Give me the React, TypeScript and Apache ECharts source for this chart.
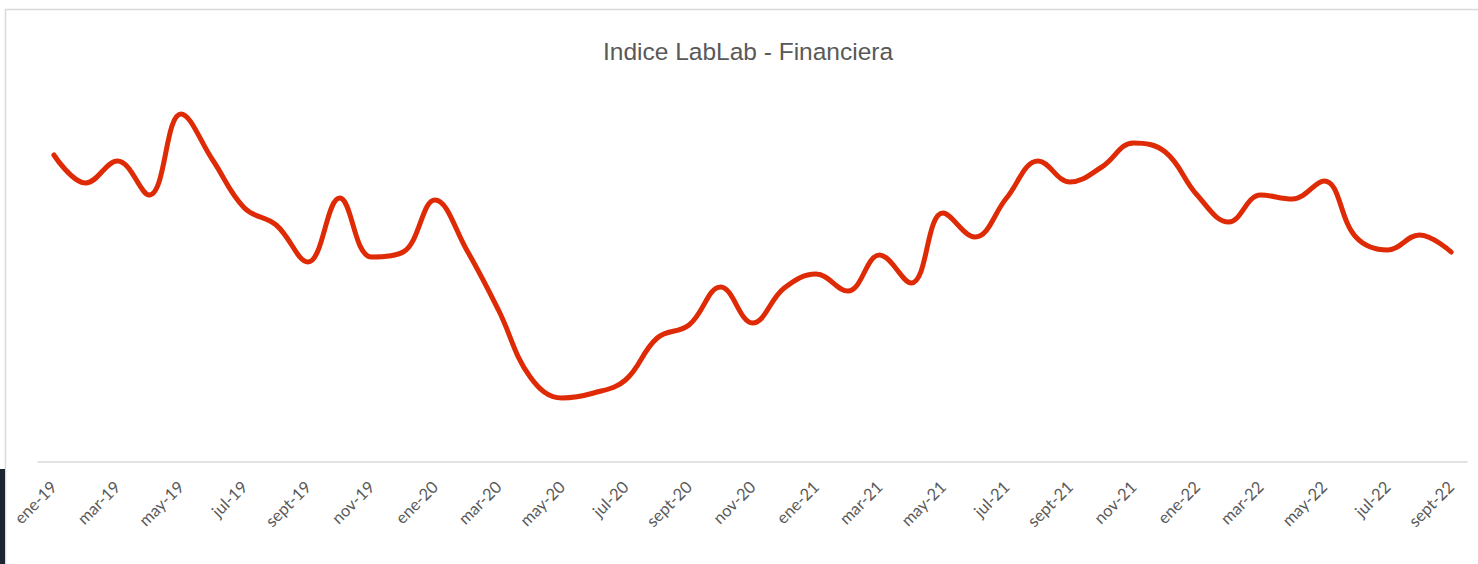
import React, { useEffect, useRef } from "react";
import * as echarts from "echarts";

const months: string[] = [
  "ene-19", "feb-19", "mar-19", "abr-19", "may-19", "jun-19", "jul-19", "ago-19", "sept-19", "oct-19", "nov-19", "dic-19",
  "ene-20", "feb-20", "mar-20", "abr-20", "may-20", "jun-20", "jul-20", "ago-20", "sept-20", "oct-20", "nov-20", "dic-20",
  "ene-21", "feb-21", "mar-21", "abr-21", "may-21", "jun-21", "jul-21", "ago-21", "sept-21", "oct-21", "nov-21", "dic-21",
  "ene-22", "feb-22", "mar-22", "abr-22", "may-22", "jun-22", "jul-22", "ago-22", "sept-22",
];

const indiceValues: number[] = [
  76.75, 69.75, 75.25, 66.75, 87, 75.5, 63.5, 59.25, 50, 66, 51.25, 52.5,
  65.5, 53, 38, 21.25, 16, 17.25, 20.5, 31, 34.25, 43.75, 34.75, 43.5,
  47, 42.75, 51.75, 44.75, 62.25, 56.25, 66, 75.25, 70, 73.75, 79.75, 77.5,
  66.75, 60, 66.75, 65.75, 70.25, 56.25, 53, 56.75, 52.5,
];

const chartTitle = "Indice LabLab - Financiera";

export default function App() {
  const ref = useRef<HTMLDivElement>(null);
  useEffect(() => {
    if (!ref.current) return;
    const chart = echarts.init(ref.current, undefined, { renderer: "svg" });
    chart.setOption({
      animation: false,
      backgroundColor: "#ffffff",
      title: {
        text: chartTitle,
        left: 598,
        top: 34,
        textStyle: {
          fontFamily: "Liberation Sans, Arial, sans-serif",
          fontSize: 24.5,
          fontWeight: "normal",
          color: "#595959",
        },
      },
      graphic: [
        {
          type: "rect",
          shape: { x: 5.5, y: 9.5, width: 1480, height: 600 },
          style: { fill: "none", stroke: "#d9d9d9", lineWidth: 1.5 },
          silent: true,
        },
        {
          type: "rect",
          shape: { x: 0, y: 469, width: 5, height: 95 },
          style: { fill: "#1e2532" },
          silent: true,
        },
      ],
      grid: { left: 38, right: 11, top: 62, bottom: 102, containLabel: false },
      xAxis: {
        type: "category",
        data: months,
        boundaryGap: true,
        axisLine: { lineStyle: { color: "#d9d9d9", width: 1.5 } },
        axisTick: { show: false },
        axisLabel: {
          interval: 1,
          rotate: 45,
          margin: 22,
          color: "#595959",
          fontSize: 16.5,
          fontFamily: "Lato, Open Sans, sans-serif",
        },
        splitLine: { show: false },
      },
      yAxis: {
        type: "value",
        min: 0,
        max: 100,
        show: false,
        splitLine: { show: false },
      },
      series: [
        {
          type: "line",
          data: indiceValues,
          smooth: 0.4,
          symbol: "none",
          lineStyle: { color: "#df2a06", width: 5, cap: "round", join: "round" },
        },
      ],
    });
    return () => chart.dispose();
  }, []);
  return (
    <div
      ref={ref}
      style={{ position: "fixed", left: 0, top: 0, width: 1478, height: 564 }}
    />
  );
}
